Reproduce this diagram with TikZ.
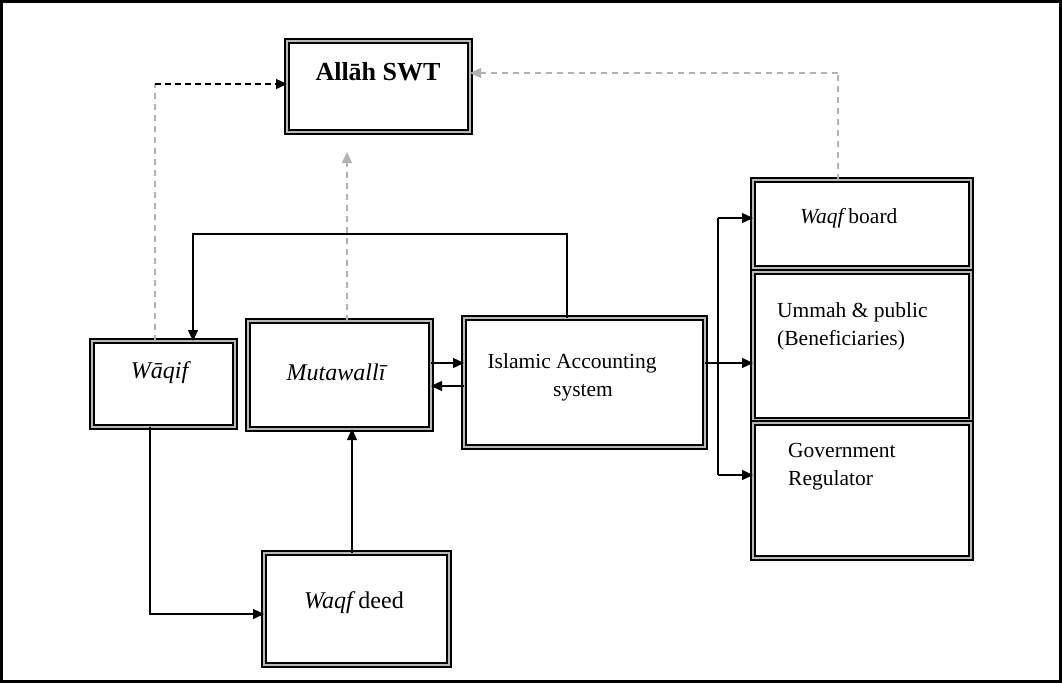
\documentclass[tikz,border=0pt]{standalone}
\usepackage{fontspec}
\setmainfont{Liberation Serif}
\usetikzlibrary{arrows.meta}
\begin{document}
\begin{tikzpicture}[x=1pt,y=-1pt,
  box/.style={draw=black, line width=1.6pt, double=gray!55, double distance=2.2pt, fill=white, inner sep=0pt, outer sep=0pt},
  lbl/.style={inner sep=0pt, font=\fontsize{21.5}{28}\selectfont, align=left},
  big/.style={inner sep=0pt, font=\fontsize{24}{28}\selectfont},
  conn/.style={line width=1.3pt, black},
  arr/.style={-{Triangle[length=11pt,width=10pt]}},
  gdash/.style={line width=1.3pt, gray!60, dash pattern=on 6pt off 5pt},
  bdash/.style={line width=1.3pt, black, dash pattern=on 6pt off 4pt}
]
\useasboundingbox (0,0) rectangle (1062,683);
\fill[white] (0,0) rectangle (1062,683);
\draw[line width=2.6pt] (1.3,1.3) rectangle (1060.7,681.7);

% boxes
\node[box, minimum width=183pt, minimum height=91pt] (allah) at (378.5,86.5) {};
\node[box, minimum width=143pt, minimum height=86pt] (waqif) at (163.5,384) {};
\node[box, minimum width=183pt, minimum height=108pt] (mut) at (339.5,375) {};
\node[box, minimum width=241pt, minimum height=129pt] (iac) at (584.5,382.5) {};
\node[box, minimum width=218pt, minimum height=88pt] (board) at (862,224) {};
\node[box, minimum width=218pt, minimum height=148pt] (ummah) at (862,346) {};
\node[box, minimum width=218pt, minimum height=135pt] (gov) at (862,490.5) {};
\node[box, minimum width=185pt, minimum height=112pt] (deed) at (356.5,609) {};

% texts
\node[inner sep=0pt, font=\fontsize{26}{30}\selectfont\bfseries] (tallah) at (378,72) {Allāh SWT};
\node[big] (twaqif) at (161,373) {\textit{Wāqif}};
\node[big] (tmut) at (337,372) {\textit{Mutawallī}};
\node[lbl, align=center] (tiac) at (572,377) {Islamic Accounting\\\hspace*{22pt}system};
\node[lbl, anchor=west] (tboard) at (800,218) {\textit{Waqf}\hspace{-3pt} board};
\node[lbl, anchor=west] (tummah) at (777,326) {Ummah \& public\\(Beneficiaries)};
\node[lbl, anchor=west] (tgov) at (788,467) {Government\\Regulator};
\node[big] (tdeed) at (354,603) {\textit{Waqf}\hspace{-3pt} deed};

% coordinates
\coordinate (j1) at (155,84);
\coordinate (j1b) at (155,341);
\coordinate (m1) at (347,152);
\coordinate (m0) at (347,321);
\coordinate (b1) at (838,73);
\coordinate (b0) at (838,180);
\coordinate (f0) at (567,318);
\coordinate (f1) at (567,234);
\coordinate (f2) at (193,234);
\coordinate (f3) at (193,341);
\coordinate (busT) at (718,218);
\coordinate (busB) at (718,475);
\coordinate (w0) at (150,427);
\coordinate (w1) at (150,614);
\coordinate (d0) at (352,553);
\coordinate (d1) at (352,429);

% dashed links to Allah
\draw[gdash] (j1b) -- (j1);
\draw[bdash, arr] (j1) -- (allah.west |- j1);
\draw[gdash, arr] (m0) -- (m1);
\draw[gdash] (b0) -- (b1);
\draw[gdash, arr] (b1) -- (allah.east |- b1);

% feedback to Waqif
\draw[conn, arr] (f0) -- (f1) -- (f2) -- (f3);

% Mutawalli <-> IAS
\draw[conn, arr] (mut.east |- 0,363) -- (iac.west |- 0,363);
\draw[conn, arr] (iac.west |- 0,386) -- (mut.east |- 0,386);

% IAS to stakeholders
\draw[conn] (busT) -- (busB);
\draw[conn, arr] (iac.east |- 0,363) -- (ummah.west |- 0,363);
\draw[conn, arr] (busT) -- (board.west |- busT);
\draw[conn, arr] (busB) -- (gov.west |- busB);

% Waqif to deed to Mutawalli
\draw[conn, arr] (w0) -- (w1) -- (deed.west |- w1);
\draw[conn, arr] (d0) -- (d1);
\end{tikzpicture}
\end{document}
